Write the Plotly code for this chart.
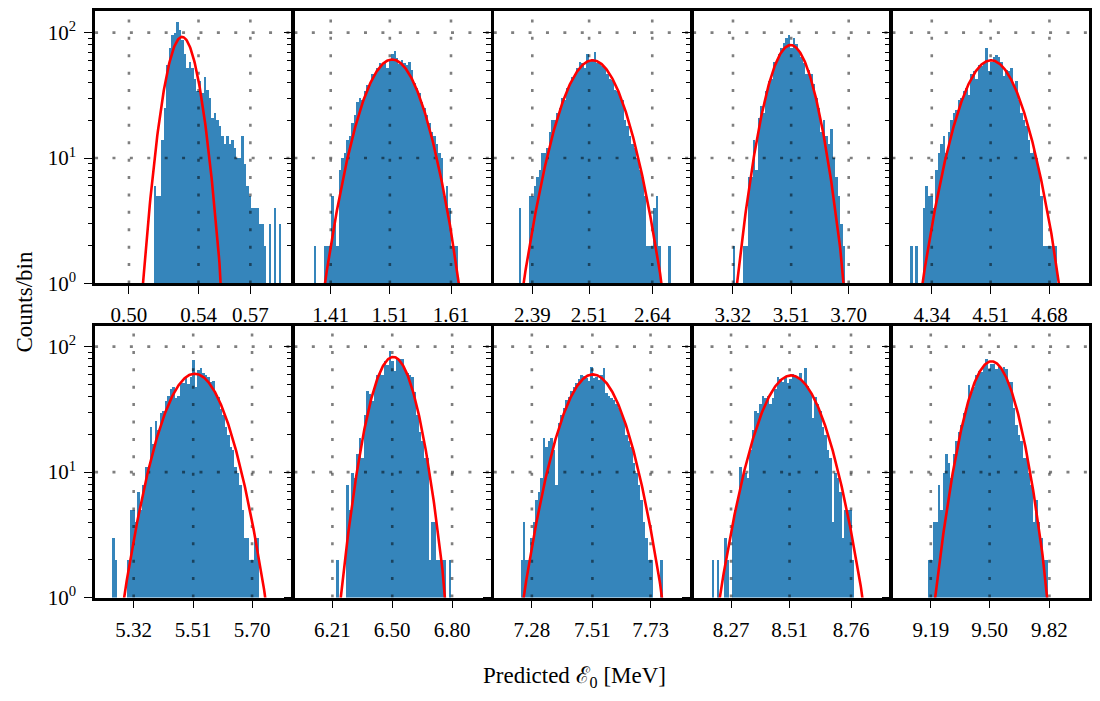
import numpy as np
import plotly.graph_objects as go

# ---------------- data ----------------
tick_text = [
    ["0.50", "0.54", "0.57"], ["1.41", "1.51", "1.61"], ["2.39", "2.51", "2.64"],
    ["3.32", "3.51", "3.70"], ["4.34", "4.51", "4.68"], ["5.32", "5.51", "5.70"],
    ["6.21", "6.50", "6.80"], ["7.28", "7.51", "7.73"], ["8.27", "8.51", "8.76"],
    ["9.19", "9.50", "9.82"],
]
tick_vals = [
    [0.5010, 0.5411, 0.5710], [1.4117, 1.5100, 1.6117], [2.3915, 2.5100, 2.6416],
    [3.319, 3.510, 3.699], [4.340, 4.510, 4.680], [5.3189, 5.510, 5.6989],
    [6.2095, 6.5045, 6.7995], [7.2804, 7.510, 7.7305], [8.271, 8.510, 8.761],
    [9.1907, 9.503, 9.8206],
]
x_lo = [0.48145, 1.3513, 2.3112, 3.188, 4.2264, 5.195, 6.0222, 7.1359, 8.1161, 8.9874]
x_hi = [0.59502, 1.67883, 2.7218, 3.8349, 4.79556, 5.8272, 6.99319, 7.88287, 8.92058, 10.03293]

bin_start = [0.5154, 1.3841, 2.3630, 3.3190, 4.2795, 5.2506, 6.2310, 7.2364, 8.1935, 9.1785]
bin_width = [0.001438, 0.004146, 0.005198, 0.008189, 0.007205, 0.008003, 0.012291, 0.009455, 0.010183, 0.013235]

counts_0 = [6, 5, 5, 14, 25, 55, 75, 95, 100, 122, 105, 88, 68, 52, 58, 52, 43, 34, 41, 33,
            44, 35, 30, 21, 23, 20, 18, 15, 13, 15, 13, 14, 12, 10, 10, 15, 9, 6, 5, 4,
            4, 4, 3, 3, 2, 1, 3, 1, 4, 1, 3]
counts_1 = [2, 1, 1, 1, 2, 2, 2, 5, 3, 2, 8, 10, 11, 14, 15, 19, 22, 28, 30, 29,
            34, 38, 40, 47, 46, 52, 57, 55, 58, 52, 62, 68, 72, 63, 56, 60, 57, 55, 58, 50,
            40, 36, 33, 28, 25, 22, 19, 16, 15, 13, 11, 10, 5, 6, 4, 2, 2, 2]
counts_2 = [4, 1, 1, 1, 5, 5, 6, 7, 8, 11, 11, 12, 16, 20, 20, 23, 25, 30, 29, 36,
            40, 44, 47, 52, 58, 57, 52, 68, 58, 62, 70, 57, 58, 54, 52, 47, 43, 42, 35, 34,
            32, 29, 20, 18, 15, 13, 12, 10, 8, 7, 5, 2, 2, 2, 4, 5, 2, 1, 1, 1, 2]
counts_3 = [2, 1, 1, 1, 2, 2, 7, 7, 14, 8, 21, 26, 23, 34, 41, 43, 58, 58, 68, 75,
            83, 91, 95, 75, 91, 81, 70, 64, 57, 47, 50, 47, 39, 30, 25, 16, 20, 15, 13, 17,
            10, 7, 5, 3, 2]
counts_4 = [2, 1, 2, 1, 1, 4, 6, 5, 5, 4, 8, 11, 13, 15, 11, 16, 20, 23, 24, 29,
            30, 34, 36, 32, 47, 49, 43, 55, 54, 58, 76, 49, 58, 64, 66, 64, 58, 45, 50, 49,
            52, 38, 41, 29, 23, 20, 18, 14, 11, 12, 10, 8, 5, 2, 2, 2, 2, 2, 2]
counts_5 = [3, 2, 1, 1, 1, 1, 2, 5, 5, 4, 7, 5, 8, 11, 11, 23, 17, 26, 22, 30,
            31, 37, 41, 46, 48, 39, 41, 53, 52, 58, 51, 58, 79, 48, 66, 68, 62, 60, 58, 53,
            54, 42, 40, 32, 29, 23, 20, 16, 15, 11, 10, 8, 5, 3, 3, 2, 2, 3, 3]
counts_6 = [2, 1, 1, 1, 8, 5, 10, 9, 14, 19, 13, 29, 45, 42, 37, 49, 60, 62, 60, 77,
            72, 94, 77, 65, 80, 80, 81, 66, 62, 60, 58, 44, 29, 21, 18, 13, 13, 2, 4, 4,
            2, 2, 2, 2, 1, 2]
counts_7 = [2, 4, 2, 2, 3, 4, 6, 7, 9, 19, 16, 18, 19, 15, 8, 25, 29, 33, 38, 40,
            45, 48, 52, 56, 60, 59, 57, 54, 70, 57, 58, 55, 60, 68, 43, 41, 39, 38, 35, 33,
            30, 26, 20, 18, 16, 12, 10, 8, 6, 4, 3, 2, 2, 1, 1, 1, 2]
counts_8 = [2, 1, 2, 1, 1, 3, 2, 1, 4, 5, 6, 11, 9, 10, 9, 15, 22, 31, 30, 35,
            41, 39, 41, 35, 39, 46, 58, 56, 53, 58, 52, 56, 61, 58, 57, 62, 53, 68, 49, 44,
            27, 40, 35, 31, 23, 20, 15, 13, 4, 10, 9, 7, 3, 5, 5, 5, 2, 1, 1]
counts_9 = [2, 2, 4, 4, 8, 5, 10, 14, 12, 9, 14, 18, 21, 24, 30, 33, 50, 44, 48, 60,
            65, 63, 70, 81, 67, 73, 73, 67, 69, 67, 69, 67, 53, 53, 33, 24, 20, 18, 13, 13,
            10, 8, 4, 6, 4, 3, 2, 2]
counts = [counts_0, counts_1, counts_2, counts_3, counts_4,
          counts_5, counts_6, counts_7, counts_8, counts_9]

# Gaussian fit parameters (amplitude, mean, sigma)
fit_amp = [92.5, 61.0, 60.2, 79.6, 60.2, 60.9, 82.8, 60.1, 59.0, 76.4]
fit_mu = [0.5316, 1.5138, 2.5172, 3.5083, 4.5111, 5.5148, 6.5089, 7.5119, 8.5165, 9.5131]
fit_sigma = [0.00749, 0.0390, 0.0503, 0.0596, 0.0692, 0.0791, 0.0870, 0.0919, 0.1022, 0.1016]

y_decades = [1, 10, 100]
y_labels = ["10<sup>0</sup>", "10<sup>1</sup>", "10<sup>2</sup>"]

# ---------------- style / layout ----------------
OFF = 8                      # page body margin
W, H = 1100 - OFF, 701 - OFF
FONT = "Liberation Serif"
BAR = "#3585bb"
col_left = [95.3, 295.2, 495.1, 695.0, 894.9]
panel_w = 197.5
row_top = [(8.0, 286.5), (329.5, 607.5)]
DECADE_PX = 128.2


def fx(px):
    return min(1.0, max(0.0, (px - OFF) / W))


def fy(py):
    return min(1.0, max(0.0, 1 - (py - OFF) / H))


fig = go.Figure()
layout = dict(
    width=W, height=H, margin=dict(l=0, r=0, t=0, b=0, pad=0),
    paper_bgcolor="white", plot_bgcolor="white", showlegend=False,
    bargap=0, barmode="overlay",
    font=dict(family=FONT, size=21, color="black"),
)

for i in range(10):
    r, c = divmod(i, 5)
    n = i + 1
    xa = "x" if n == 1 else f"x{n}"
    ya = "y" if n == 1 else f"y{n}"
    xkey = "xaxis" if n == 1 else f"xaxis{n}"
    ykey = "yaxis" if n == 1 else f"yaxis{n}"
    top, bot = row_top[r]
    ymaxlog = (bot - top) / DECADE_PX
    layout[xkey] = dict(
        domain=[fx(col_left[c]), fx(col_left[c] + panel_w)], anchor=ya,
        range=[x_lo[i], x_hi[i]],
        tickmode="array", tickvals=tick_vals[i], ticktext=tick_text[i],
        ticks="outside", ticklen=8, tickwidth=1.2, tickcolor="black",
        ticklabelstandoff=3,
        showline=True, linewidth=2.6, linecolor="black", mirror=True,
        showgrid=False, zeroline=False,
        tickfont=dict(family=FONT, size=21, color="black"),
    )
    yax = dict(
        domain=[fy(bot), fy(top)], anchor=xa, type="log",
        range=[0, ymaxlog],
        tickmode="array", tickvals=y_decades,
        showticklabels=(c == 0),
        ticks="outside", ticklen=8, tickwidth=1.2, tickcolor="black",
        minor=dict(ticks="outside", ticklen=4.5, tickwidth=1, tickcolor="black",
                   dtick="D1", showgrid=False),
        showline=True, linewidth=2.6, linecolor="black",
        mirror=("ticks" if c == 4 else True),
        showgrid=False, zeroline=False,
        tickfont=dict(family=FONT, size=21, color="black"),
    )
    if c == 0:
        yax["ticktext"] = y_labels
        yax["ticklabelstandoff"] = 4
    layout[ykey] = yax

    nb = len(counts[i])
    centers = [bin_start[i] + (k + 0.5) * bin_width[i] for k in range(nb)]
    fig.add_trace(go.Bar(
        x=centers, y=counts[i], width=bin_width[i],
        marker=dict(color=BAR, line=dict(width=0)),
        xaxis=xa, yaxis=ya, hoverinfo="skip",
    ))

    # dotted grid drawn above the bars
    ytop = 10 ** ymaxlog
    gx, gy = [], []
    for t in tick_vals[i]:
        gx += [t, t, None]
        gy += [1, ytop, None]
    for d in y_decades[1:]:
        gx += [x_lo[i], x_hi[i], None]
        gy += [d, d, None]
    fig.add_trace(go.Scatter(
        x=gx, y=gy, mode="lines",
        line=dict(color="rgba(0,0,0,0.5)", width=2.6, dash="3px,14.4px"),
        xaxis=xa, yaxis=ya, hoverinfo="skip",
    ))

    # Gaussian fit
    xf = np.linspace(x_lo[i], x_hi[i], 400)
    yf = fit_amp[i] * np.exp(-0.5 * ((xf - fit_mu[i]) / fit_sigma[i]) ** 2)
    yf = np.maximum(yf, 1e-6)
    fig.add_trace(go.Scatter(
        x=xf, y=yf, mode="lines", line=dict(color="#ff0000", width=2.6),
        xaxis=xa, yaxis=ya, hoverinfo="skip",
    ))

layout["annotations"] = [
    dict(text="Counts/bin", x=fx(25), y=fy(305), xref="paper", yref="paper",
         textangle=-90, showarrow=False, xanchor="center", yanchor="middle",
         font=dict(family=FONT, size=23, color="black")),
    dict(text="Predicted ℰ<sub>0</sub> [MeV]", x=fx(576), y=fy(689),
         xref="paper", yref="paper", showarrow=False,
         xanchor="center", yanchor="middle",
         font=dict(family=FONT, size=23, color="black")),
]

fig.update_layout(**layout)
fig.write_html("out.html")
